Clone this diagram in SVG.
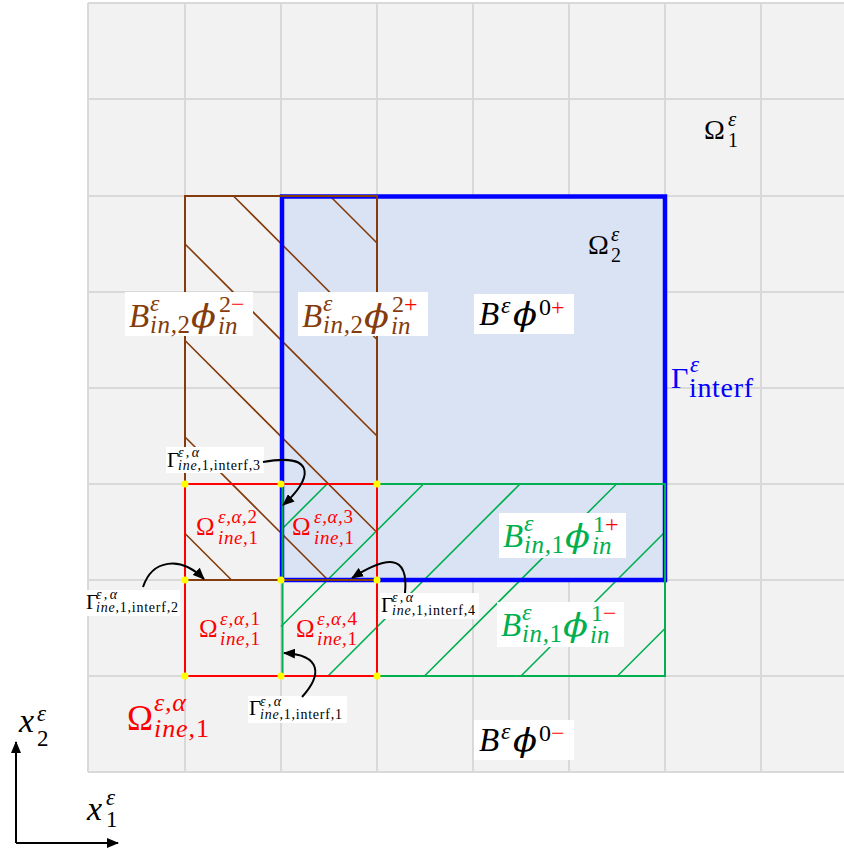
<svg xmlns="http://www.w3.org/2000/svg" width="844" height="848" viewBox="0 0 844 848">
<style>
.gl{stroke:#d9d9d9;stroke-width:2;fill:none}
.m{font-family:"Liberation Serif","DejaVu Serif",serif;font-style:italic}
.u{font-family:"Liberation Serif","DejaVu Serif",serif;font-style:normal}
.phi{font-family:"DejaVu Serif",serif;font-style:italic}
.up{font-style:normal}
.br{fill:#843c0c}
.gr{fill:#00b050}
.rd{fill:#ff0000}
.bk{fill:#000000}
.bl{fill:#0000ff}
.box{fill:#ffffff}
.hb{stroke:#843c0c;stroke-width:1.6}
.hg{stroke:#00b050;stroke-width:1.6}
.arr{stroke:#000;stroke-width:2;fill:none;marker-end:url(#ah)}
.dot{fill:#ffff00}
</style>
<defs>
<marker id="ah" markerUnits="userSpaceOnUse" markerWidth="12" markerHeight="10" refX="11" refY="5" orient="auto">
<path d="M0,0 L12,5 L0,10 z" fill="#000"/>
</marker>
</defs>
<rect width="844" height="848" fill="#ffffff"/>
<g id="grid">
<rect x="88" y="3" width="756" height="769" fill="#f2f2f2"/>
<path class="gl" d="M88,3V772M185,3V772M281,3V772M377,3V772M473,3V772M569,3V772M665,3V772M761,3V772M88,3H844M88,99H844M88,196H844M88,292H844M88,388H844M88,484H844M88,580H844M88,676H844M88,772H844"/>
</g>
<g id="omega2-fill">
<rect x="282" y="196.5" width="383" height="383.5" fill="#dae3f3"/>
</g>
<g id="hatch-brown">
<path class="hb" d="M330,196L377,243M233.5,196L377,339.5M185,244L377,436M185,340.5L377,532.5M185,437L328,580M185,533.5L231.5,580"/>
</g>
<g id="hatch-green">
<path class="hg" d="M327,484L281,530M423.5,484L281,626.5M520,484L328,676M616.5,484L424.5,676M665,532L521,676M665,628.5L617.5,676"/>
</g>
<g id="gamma-interf">
<rect x="282" y="196.5" width="383" height="383.5" fill="none" stroke="#0000ff" stroke-width="4.5"/>
</g>
<g id="B-in2">
<rect x="185" y="196" width="192" height="384" fill="none" stroke="#843c0c" stroke-width="2"/>
</g>
<g id="B-in1">
<rect x="282.5" y="484" width="382.5" height="192" fill="none" stroke="#00b050" stroke-width="2"/>
</g>
<g id="omega-ine">
<rect x="185" y="484" width="192" height="192" fill="none" stroke="#ff0000" stroke-width="2"/>
</g>
<g id="dots">
<circle class="dot" cx="185" cy="484" r="3.5"/><circle class="dot" cx="281" cy="484" r="3.5"/><circle class="dot" cx="377" cy="484" r="3.5"/>
<circle class="dot" cx="185" cy="580" r="3.5"/><circle class="dot" cx="281" cy="580" r="3.5"/><circle class="dot" cx="377" cy="580" r="3.5"/>
<circle class="dot" cx="185" cy="676" r="3.5"/><circle class="dot" cx="281" cy="676" r="3.5"/><circle class="dot" cx="377" cy="676" r="3.5"/>
</g>

<g id="label-omega1" class="bk">
<text class="u" x="704" y="139" font-size="28">Ω</text>
<text class="m" x="728" y="126" font-size="21">ε</text>
<text class="u" x="728" y="147" font-size="20">1</text>
</g>
<g id="label-omega2" class="bk">
<text class="u" x="588" y="254" font-size="28">Ω</text>
<text class="m" x="611" y="241" font-size="21">ε</text>
<text class="u" x="611" y="262" font-size="20">2</text>
</g>
<g id="label-gamma-interf" class="bl">
<text class="u" x="671" y="388" font-size="30">Γ</text>
<text class="m" x="690" y="372" font-size="23">ε</text>
<text class="u" x="689" y="397" font-size="28" textLength="64" lengthAdjust="spacing">interf</text>
</g>

<g id="label-B0p">
<rect class="box" x="474" y="294" width="100" height="40"/>
<text class="m bk" x="479" y="325" font-size="33">B</text>
<text class="m bk" x="501" y="313" font-size="24">ε</text>
<text class="phi bk" x="513" y="325" font-size="31" textLength="24" lengthAdjust="spacingAndGlyphs">ϕ</text>
<text class="u bk" x="539" y="315" font-size="24">0<tspan class="rd">+</tspan></text>
</g>
<g id="label-B0m">
<rect class="box" x="474" y="720" width="100" height="40"/>
<text class="m bk" x="479" y="751" font-size="33">B</text>
<text class="m bk" x="501" y="739" font-size="24">ε</text>
<text class="phi bk" x="513" y="751" font-size="31" textLength="24" lengthAdjust="spacingAndGlyphs">ϕ</text>
<text class="u bk" x="539" y="741" font-size="24">0<tspan class="rd">−</tspan></text>
</g>

<g id="label-B2m" class="br">
<rect class="box" x="125" y="292" width="128" height="44"/>
<text class="m" x="129" y="327" font-size="33">B</text>
<text class="m" x="150" y="311" font-size="24">ε</text>
<text class="m" x="150" y="333" font-size="25" textLength="40" lengthAdjust="spacing">in,<tspan class="up">2</tspan></text>
<text class="phi" x="191" y="327" font-size="31" textLength="25" lengthAdjust="spacingAndGlyphs">ϕ</text>
<text class="u" x="219" y="312" font-size="24">2<tspan class="rd">−</tspan></text>
<text class="m" x="218" y="334" font-size="25">in</text>
</g>
<g id="label-B2p" class="br">
<rect class="box" x="298" y="292" width="130" height="44"/>
<text class="m" x="302" y="327" font-size="33">B</text>
<text class="m" x="323" y="311" font-size="24">ε</text>
<text class="m" x="323" y="333" font-size="25" textLength="40" lengthAdjust="spacing">in,<tspan class="up">2</tspan></text>
<text class="phi" x="364" y="327" font-size="31" textLength="25" lengthAdjust="spacingAndGlyphs">ϕ</text>
<text class="u" x="392" y="312" font-size="24">2<tspan class="rd">+</tspan></text>
<text class="m" x="391" y="334" font-size="25">in</text>
</g>
<g id="label-B1p" class="gr">
<rect class="box" x="499" y="513" width="127" height="45"/>
<text class="m" x="503" y="547" font-size="33">B</text>
<text class="m" x="524" y="531" font-size="24">ε</text>
<text class="m" x="524" y="553" font-size="25" textLength="40" lengthAdjust="spacing">in,<tspan class="up">1</tspan></text>
<text class="phi" x="565" y="547" font-size="31" textLength="25" lengthAdjust="spacingAndGlyphs">ϕ</text>
<text class="u" x="593" y="532" font-size="24">1<tspan class="rd">+</tspan></text>
<text class="m" x="592" y="554" font-size="25">in</text>
</g>
<g id="label-B1m" class="gr">
<rect class="box" x="497" y="602" width="127" height="45"/>
<text class="m" x="501" y="636" font-size="33">B</text>
<text class="m" x="522" y="620" font-size="24">ε</text>
<text class="m" x="522" y="642" font-size="25" textLength="40" lengthAdjust="spacing">in,<tspan class="up">1</tspan></text>
<text class="phi" x="563" y="636" font-size="31" textLength="25" lengthAdjust="spacingAndGlyphs">ϕ</text>
<text class="u" x="591" y="621" font-size="24">1<tspan class="rd">−</tspan></text>
<text class="m" x="590" y="643" font-size="25">in</text>
</g>

<g id="label-omega-ine-2" class="rd">
<text class="u" x="196" y="535" font-size="25">Ω</text>
<text class="m" x="218" y="523" font-size="19" textLength="39" lengthAdjust="spacing">ε,α,<tspan class="up">2</tspan></text>
<text class="m" x="218" y="544" font-size="19" textLength="40" lengthAdjust="spacing">ine,<tspan class="up">1</tspan></text>
</g>
<g id="label-omega-ine-3" class="rd">
<text class="u" x="292" y="535" font-size="25">Ω</text>
<text class="m" x="314" y="523" font-size="19" textLength="39" lengthAdjust="spacing">ε,α,<tspan class="up">3</tspan></text>
<text class="m" x="314" y="544" font-size="19" textLength="40" lengthAdjust="spacing">ine,<tspan class="up">1</tspan></text>
</g>
<g id="label-omega-ine-1" class="rd">
<text class="u" x="199" y="637" font-size="25">Ω</text>
<text class="m" x="220" y="625" font-size="19" textLength="40" lengthAdjust="spacing">ε,α,<tspan class="up">1</tspan></text>
<text class="m" x="220" y="645" font-size="19" textLength="40" lengthAdjust="spacing">ine,<tspan class="up">1</tspan></text>
</g>
<g id="label-omega-ine-4" class="rd">
<text class="u" x="296" y="637" font-size="25">Ω</text>
<text class="m" x="317" y="625" font-size="19" textLength="40" lengthAdjust="spacing">ε,α,<tspan class="up">4</tspan></text>
<text class="m" x="317" y="645" font-size="19" textLength="40" lengthAdjust="spacing">ine,<tspan class="up">1</tspan></text>
</g>
<g id="label-omega-ine" class="rd">
<text class="u" x="127" y="730" font-size="35">Ω</text>
<text class="m" x="154" y="711" font-size="26" textLength="32" lengthAdjust="spacing">ε,α</text>
<text class="m" x="154" y="737" font-size="26" textLength="55" lengthAdjust="spacing">ine,<tspan class="up">1</tspan></text>
</g>

<g id="label-gamma-3" class="bk">
<rect class="box" x="166" y="447" width="98" height="26"/>
<text class="u" x="167" y="467" font-size="21">Γ</text>
<text class="m" x="178" y="457" font-size="14" textLength="21" lengthAdjust="spacing">ε,α</text>
<text class="m" x="178" y="470" font-size="14" textLength="82" lengthAdjust="spacing">ine<tspan class="up">,1,interf,3</tspan></text>
</g>
<g id="label-gamma-2" class="bk">
<rect class="box" x="85" y="590" width="95" height="26"/>
<text class="u" x="86" y="609" font-size="21">Γ</text>
<text class="m" x="96" y="599" font-size="14" textLength="21" lengthAdjust="spacing">ε,α</text>
<text class="m" x="96" y="612" font-size="14" textLength="82" lengthAdjust="spacing">ine<tspan class="up">,1,interf,2</tspan></text>
</g>
<g id="label-gamma-4" class="bk">
<rect class="box" x="380" y="593" width="99" height="26"/>
<text class="u" x="381" y="612" font-size="21">Γ</text>
<text class="m" x="392" y="602" font-size="14" textLength="21" lengthAdjust="spacing">ε,α</text>
<text class="m" x="392" y="615" font-size="14" textLength="83" lengthAdjust="spacing">ine<tspan class="up">,1,interf,4</tspan></text>
</g>
<g id="label-gamma-1" class="bk">
<rect class="box" x="248" y="696" width="99" height="27"/>
<text class="u" x="249" y="715" font-size="21">Γ</text>
<text class="m" x="260" y="706" font-size="14" textLength="21" lengthAdjust="spacing">ε,α</text>
<text class="m" x="260" y="719" font-size="14" textLength="82" lengthAdjust="spacing">ine<tspan class="up">,1,interf,1</tspan></text>
</g>

<g id="connectors">
<path class="arr" d="M263,462 C318,452 312,480 283,505"/>
<path class="arr" d="M143,587 C152,560 180,555 204,579"/>
<path class="arr" d="M405,593 C409,552 385,557 352,578"/>
<path class="arr" d="M302,697 C322,675 322,655 284,653"/>
</g>

<g id="axes">
<path d="M16,843 V742" stroke="#000" stroke-width="2" fill="none" marker-end="url(#ah)"/>
<path d="M16,843 H118" stroke="#000" stroke-width="2" fill="none" marker-end="url(#ah)"/>
<text class="m bk" x="19" y="732" font-size="34">x</text>
<text class="m bk" x="37" y="721" font-size="23">ε</text>
<text class="u bk" x="37" y="746" font-size="23">2</text>
<text class="m bk" x="87" y="820" font-size="34">x</text>
<text class="m bk" x="106" y="805" font-size="23">ε</text>
<text class="u bk" x="106" y="827" font-size="23">1</text>
</g>
</svg>
